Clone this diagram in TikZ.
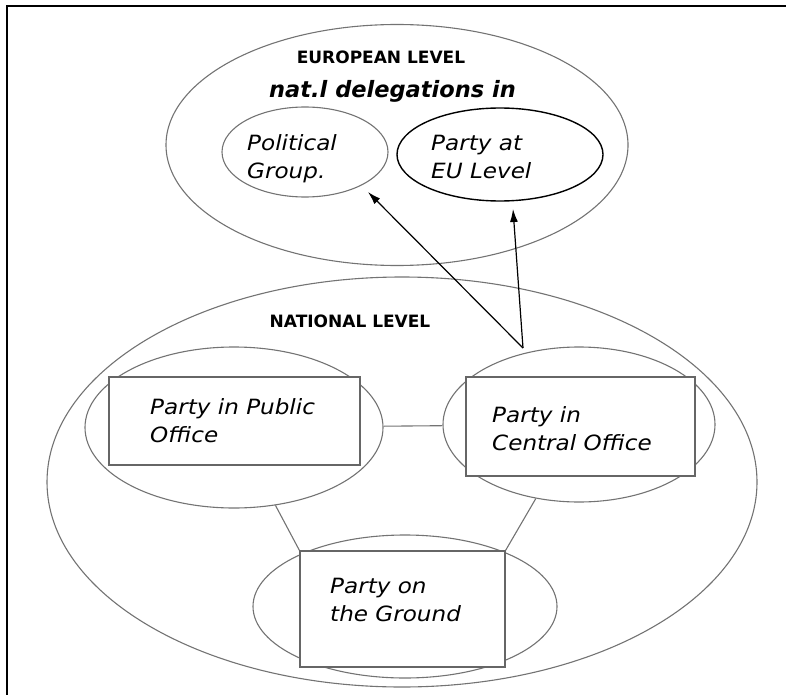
\documentclass[tikz,border=0pt]{standalone}
\usepackage{fontspec}
\setmainfont{DejaVu Sans}
\newfontfamily\lblfont{DejaVu Sans}[FakeStretch=1.1]
\usetikzlibrary{shapes.geometric,arrows.meta,backgrounds}

\begin{document}
\begin{tikzpicture}
  [x=1pt,y=-1pt,
   oval/.style={ellipse,draw=black!55,line width=1.1pt,inner sep=0pt},
   box/.style={rectangle,draw=black!60,line width=1.1pt,fill=white,inner sep=0pt},
   lbl/.style={anchor=north west,inner sep=0pt,align=left,font=\lblfont\itshape\fontsize{21}{28}\selectfont},
   head/.style={anchor=base,inner sep=0pt,font=\bfseries\fontsize{17}{20}\selectfont},
   link/.style={draw=black!55,line width=1.1pt},
   up/.style={draw=black,line width=1.2pt,-{Latex[length=13pt,width=8pt]}}]
  \useasboundingbox (0,0) rectangle (786,695);
  \draw[line width=2.5pt] (7,695) -- (7,6) -- (786,6);

  % european level
  \node[oval,minimum width=462,minimum height=241] (euro) at (397,145) {};
  \node[oval,minimum width=166,minimum height=90] (pg) at (305,152) {};
  \node[oval,draw=black,line width=1.4pt,minimum width=206,minimum height=93] (eul) at (500,154.5) {};
  \node[head] (eurotitle) at (381,64) {EUROPEAN LEVEL};
  \node[head,font=\bfseries\itshape\fontsize{22.5}{26}\selectfont] (deleg) at (392.5,98) {nat.l delegations in};
  \node[lbl] (pgtext) at (247,134) {Political\\Group.};
  \node[lbl] (eultext) at (431,135) {Party at\\EU Level};

  % national level
  \node[oval,minimum width=710,minimum height=410] (nat) at (402,482) {};
  \node[head] (nattitle) at (350,327) {NATIONAL LEVEL};
  \node[oval,minimum width=298,minimum height=161] (pub) at (234,427.5) {};
  \node[oval,minimum width=272,minimum height=155] (cen) at (579,424.5) {};
  \node[oval,minimum width=304,minimum height=143] (gnd) at (405,606.5) {};

  \node[box,minimum width=251,minimum height=88] (pubbox) at (234.5,421) {};
  \node[box,minimum width=229,minimum height=99] (cenbox) at (580.5,426.5) {};
  \node[box,minimum width=205,minimum height=116] (gndbox) at (402.5,609) {};

  \begin{pgfonlayer}{background}
  \foreach \from/\to in {pub/cen, gndbox.north west/pub, gndbox.north east/cen}
    \draw[link] (\from) -- (\to);
  \end{pgfonlayer}

  \node[lbl] (pubtext) at (150,398) {Party in Public\\Office};
  \node[lbl] (centext) at (492,406) {Party in\\Central Office};
  \node[lbl] (gndtext) at (330,578) {Party on\\the Ground};

  % links up to the EU
  \coordinate (apex) at (523,348);
  \coordinate (pgtip) at (368,192);
  \coordinate (eultip) at (513,209);
  \foreach \to in {pgtip, eultip}
    \draw[up] (apex) -- (\to);

\end{tikzpicture}
\end{document}
